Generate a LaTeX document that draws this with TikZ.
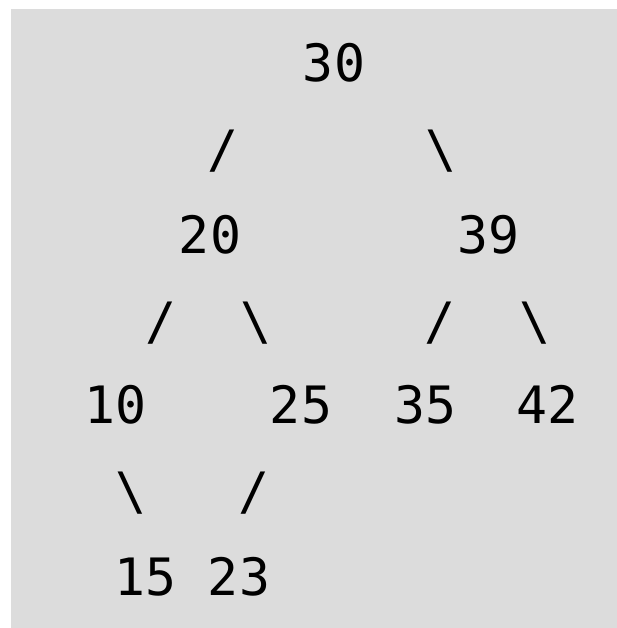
\documentclass[tikz,border=0pt]{standalone}
\usepackage{fontspec}
\newfontfamily\treefont{DejaVu Sans Mono}
\definecolor{bggray}{RGB}{220,220,220}
\tikzset{
  num/.style={inner sep=0pt, anchor=base, font=\treefont\fontsize{51.5}{60}\selectfont, text=black},
  link/.style={num}
}
\begin{document}
\begin{tikzpicture}[x=1pt,y=-1pt]
\fill[white] (0,0) rectangle (617,628);
\fill[bggray] (11,9) rectangle (617,628);
\useasboundingbox (0,0) rectangle (617,628);
% row 1
\node[num] (n30) at (334,82) {30};
% row 2
\node[link] (l30a) at (223,168) {/};
\node[link] (l30b) at (441,168) {\textbackslash};
% row 3
\node[num] (n20) at (210,253) {20};
\node[num] (n39) at (488,253) {39};
% row 4
\node[link] (l20a) at (161,339) {/};
\node[link] (l20b) at (256,339) {\textbackslash};
\node[link] (l39a) at (440,339) {/};
\node[link] (l39b) at (535,339) {\textbackslash};
% row 5
\node[num] (n10) at (116,423) {10};
\node[num] (n25) at (301,423) {25};
\node[num] (n35) at (425,423) {35};
\node[num] (n42) at (547,423) {42};
% row 6
\node[link] (l10) at (131,509) {\textbackslash};
\node[link] (l25) at (254,509) {/};
% row 7
\node[num] (n15) at (146,595) {15};
\node[num] (n23) at (239,595) {23};
\end{tikzpicture}
\end{document}
